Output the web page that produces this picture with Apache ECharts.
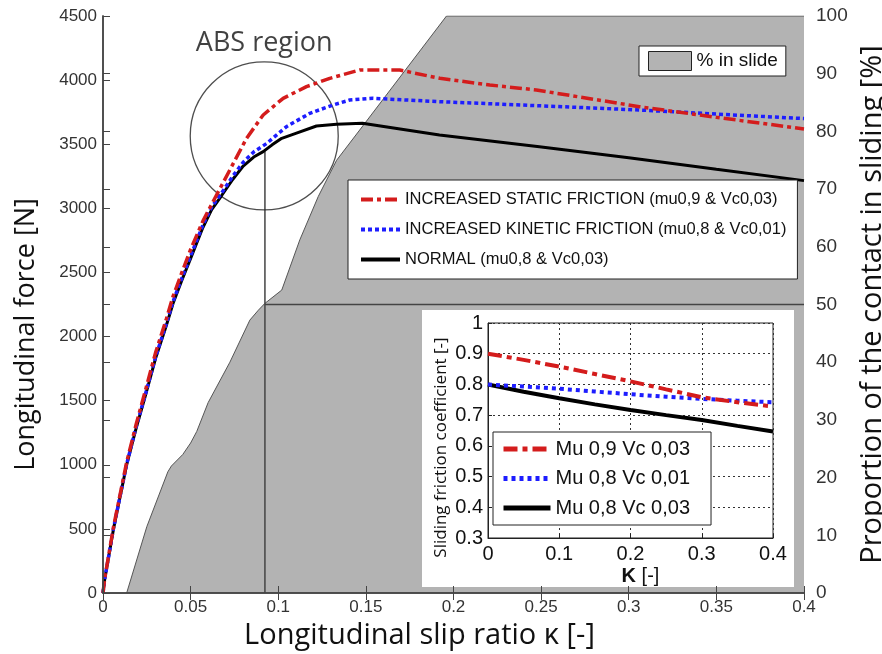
<!DOCTYPE html>
<html>
<head>
<meta charset="utf-8">
<script src="https://cdn.jsdelivr.net/npm/echarts@6/dist/echarts.min.js"></script>
<style>html,body{margin:0;padding:0;background:#fff}#chart{width:882px;height:654px}</style>
</head>
<body>
<div id="chart"></div>
<script>
// main plot: longitudinal force vs slip ratio
var normalK = [0, 0.001, 0.006, 0.0135, 0.019, 0.024, 0.03, 0.036, 0.04, 0.045, 0.05, 0.057, 0.062, 0.0677, 0.074, 0.08, 0.086, 0.0914, 0.0965, 0.102, 0.11, 0.1218, 0.1333, 0.148, 0.192, 0.249, 0.3, 0.35, 0.4];
var normalF = [0, 110, 500, 1000, 1290, 1530, 1830, 2080, 2260, 2440, 2610, 2850, 2990, 3100, 3225, 3330, 3400, 3442, 3495, 3546, 3585, 3642, 3655, 3663, 3572, 3481, 3395, 3305, 3216];

var staticK = [0, 0.001, 0.006, 0.0135, 0.019, 0.024, 0.03, 0.036, 0.04, 0.045, 0.05, 0.057, 0.0648, 0.0724, 0.0819, 0.0914, 0.1028, 0.1161, 0.1294, 0.1465, 0.1693, 0.1922, 0.2207, 0.2473, 0.306, 0.35, 0.4];
var staticF = [0, 115, 515, 1020, 1320, 1570, 1875, 2130, 2315, 2500, 2680, 2900, 3104, 3300, 3546, 3728, 3858, 3949, 4014, 4079, 4079, 4014, 3962, 3923, 3793, 3710, 3619];

var kineticK = [0, 0.001, 0.006, 0.0135, 0.019, 0.024, 0.03, 0.036, 0.04, 0.045, 0.05, 0.057, 0.062, 0.0677, 0.074, 0.08, 0.086, 0.0933, 0.1047, 0.118, 0.1313, 0.1408, 0.154, 0.192, 0.249, 0.306, 0.35, 0.4];
var kineticF = [0, 110, 505, 1005, 1300, 1540, 1840, 2095, 2275, 2455, 2630, 2870, 3010, 3120, 3250, 3360, 3440, 3505, 3637, 3741, 3806, 3845, 3858, 3832, 3800, 3767, 3735, 3700];

// % of contact in sliding (right axis)
var slideK = [0.0135, 0.025, 0.037, 0.039, 0.0455, 0.05, 0.0535, 0.06, 0.0724, 0.0838, 0.0886, 0.0924, 0.102, 0.1123, 0.1228, 0.1333, 0.1494, 0.196, 0.4];
var slideP = [0, 11.5, 21, 22, 24, 26, 28, 33, 40, 47.3, 49, 50.2, 52.5, 61.2, 68.7, 75, 81.4, 100, 100];

var absK = 0.092, absF = 3565;
var refK = 0.0924, refF = 3445, refP = 50;

// inset: sliding friction coefficient
var insetK = [0, 0.05, 0.1, 0.15, 0.2, 0.25, 0.3, 0.35, 0.4];
var insetRed = [0.9, 0.88, 0.858, 0.834, 0.81, 0.784, 0.758, 0.742, 0.728];
var insetBlue = [0.8, 0.793, 0.786, 0.777, 0.768, 0.76, 0.753, 0.747, 0.742];
var insetBlack = [0.8, 0.776, 0.755, 0.735, 0.717, 0.7, 0.684, 0.665, 0.647];

var mainNames = ['INCREASED STATIC FRICTION (mu0,9 & Vc0,03)', 'INCREASED KINETIC FRICTION (mu0,8 & Vc0,01)', 'NORMAL (mu0,8 & Vc0,03)'];
var insetNames = ['Mu 0,9 Vc 0,03', 'Mu 0,8 Vc 0,01', 'Mu 0,8 Vc 0,03'];

function zip(a, b) {
    return a.map(function (v, i) { return [v, b[i]]; });
}

function plain(v) {
    return String(v);
}

var RED = '#d41c1c', BLUE = '#1d1dff', BLACK = '#000';
var ARIAL = 'Liberation Sans';
var TITLE = 'Open Sans';

var myChart = echarts.init(document.getElementById('chart'));

var option = {
    animation: false,
    backgroundColor: '#fff',
    grid: [
        { left: 103, right: 78, top: 16, bottom: 61, outerBoundsMode: 'none', containLabel: false },
        { left: 488, right: 109, top: 323, bottom: 116, outerBoundsMode: 'none', containLabel: false, show: true, z: 6, backgroundColor: '#fff', borderColor: '#222', borderWidth: 1 }
    ],
    graphic: [
        { type: 'rect', z: 5, silent: true, shape: { x: 422, y: 310, width: 372, height: 277 }, style: { fill: '#fff' } }
    ],
    xAxis: [
        {
            gridIndex: 0, type: 'value', min: 0, max: 0.4, interval: 0.05, z: 5,
            name: 'Longitudinal slip ratio \u03ba [-]', nameLocation: 'middle', nameGap: 25,
            nameTextStyle: { fontSize: 29, fontFamily: TITLE, color: '#111', padding: [0, 68, 0, 0] },
            axisLine: { lineStyle: { color: '#444', width: 1.5 } },
            axisTick: { inside: true, length: 7, lineStyle: { color: '#444' } },
            axisLabel: { fontSize: 17, fontFamily: ARIAL, color: '#333', margin: 6, formatter: plain },
            splitLine: { show: false }
        },
        {
            gridIndex: 0, type: 'value', position: 'top', min: 0, max: 0.4, interval: 0.05, z: 5,
            axisLine: { lineStyle: { color: '#444', width: 1.5 } },
            axisTick: { inside: true, length: 7, lineStyle: { color: '#444' } },
            axisLabel: { show: false },
            splitLine: { show: false }
        },
        {
            gridIndex: 1, type: 'value', min: 0, max: 0.4, interval: 0.1, z: 7,
            name: '{b|K} [-]', nameLocation: 'middle', nameGap: 28,
            nameTextStyle: { fontSize: 20, fontFamily: ARIAL, color: '#111', padding: [0, 0, 0, 20], rich: { b: { fontSize: 20, fontWeight: 'bold', fontFamily: ARIAL, color: '#111' } } },
            axisLine: { lineStyle: { color: '#222', width: 1 } },
            axisTick: { inside: true, length: 4, lineStyle: { color: '#222' } },
            axisLabel: { fontSize: 20, fontFamily: ARIAL, color: '#111', margin: 6, formatter: plain },
            splitLine: { show: true, lineStyle: { color: '#333', type: [2, 3], width: 1 } }
        }
    ],
    yAxis: [
        {
            gridIndex: 0, type: 'value', min: 0, max: 4500, interval: 500, z: 5,
            name: 'Longitudinal force [N]', nameLocation: 'middle', nameGap: 63,
            nameTextStyle: { fontSize: 27, fontFamily: TITLE, color: '#111', padding: [0, 60, 0, 0] },
            axisLine: { show: true, lineStyle: { color: '#444', width: 1.5 } },
            axisTick: { show: true, inside: true, length: 7, lineStyle: { color: '#444' } },
            axisLabel: { fontSize: 17, fontFamily: ARIAL, color: '#333', margin: 6, formatter: plain },
            splitLine: { show: false }
        },
        {
            gridIndex: 0, type: 'value', position: 'right', min: 0, max: 100, interval: 10, z: 5,
            name: 'Proportion of the contact in sliding [%]', nameLocation: 'middle', nameGap: 44, nameRotate: 90,
            nameTextStyle: { fontSize: 29, fontFamily: TITLE, color: '#111' },
            axisLine: { show: true, lineStyle: { color: '#444', width: 1.5 } },
            axisTick: { show: true, inside: false, length: 7, lineStyle: { color: '#444' } },
            axisLabel: { fontSize: 19, fontFamily: ARIAL, color: '#333', margin: 12, formatter: plain },
            splitLine: { show: false }
        },
        {
            gridIndex: 1, type: 'value', min: 0.3, max: 1, interval: 0.1, z: 7,
            name: 'Sliding friction coefficient [-]', nameLocation: 'middle', nameGap: 38,
            nameTextStyle: { fontSize: 17, fontFamily: TITLE, color: '#111', padding: [0, 34, 0, 0] },
            axisLine: { show: true, lineStyle: { color: '#222', width: 1 } },
            axisTick: { show: true, inside: true, length: 4, lineStyle: { color: '#222' } },
            axisLabel: { fontSize: 20, fontFamily: ARIAL, color: '#111', margin: 5, formatter: plain },
            splitLine: { show: true, lineStyle: { color: '#333', type: [2, 3], width: 1 } }
        }
    ],
    legend: [
        {
            data: mainNames, orient: 'vertical', left: 348, top: 180, z: 10,
            selectedMode: false, itemWidth: 39, itemHeight: 10, itemGap: 13,
            padding: [11, 11, 11, 11],
            backgroundColor: '#fff', borderColor: '#222', borderWidth: 1,
            lineStyle: { width: 4 }, itemStyle: { opacity: 0 },
            textStyle: { fontSize: 16.5, lineHeight: 16, fontFamily: ARIAL, color: '#111' }
        },
        {
            data: [{ name: '% in slide', icon: 'rect', itemStyle: { color: '#b3b3b3', borderColor: '#222', borderWidth: 1 } }],
            left: 639, top: 46, z: 10, selectedMode: false,
            itemWidth: 43, itemHeight: 19, padding: [5, 8, 5, 9],
            backgroundColor: '#fff', borderColor: '#222', borderWidth: 1,
            textStyle: { fontSize: 19, lineHeight: 19, fontFamily: ARIAL, color: '#111' }
        },
        {
            data: insetNames, orient: 'vertical', left: 493, top: 432, z: 10,
            selectedMode: false, itemWidth: 47, itemHeight: 10, itemGap: 9.5,
            padding: [7, 21, 7, 8],
            backgroundColor: '#fff', borderColor: '#222', borderWidth: 1,
            lineStyle: { width: 5 }, itemStyle: { opacity: 0 },
            textStyle: { fontSize: 20, lineHeight: 20, fontFamily: ARIAL, color: '#111' }
        }
    ],
    series: [
        {
            name: '% in slide', type: 'line', xAxisIndex: 0, yAxisIndex: 1, z: 1, silent: true,
            symbol: 'none', data: zip(slideK, slideP),
            lineStyle: { color: '#555', width: 1 },
            itemStyle: { color: '#b3b3b3' },
            areaStyle: { color: '#b3b3b3', opacity: 1 }
        },
        {
            name: 'vline', type: 'line', xAxisIndex: 0, yAxisIndex: 0, z: 3, silent: true,
            symbol: 'none', data: [[refK, 0], [refK, refF]],
            lineStyle: { color: '#444', width: 1.5 }
        },
        {
            name: 'hline', type: 'line', xAxisIndex: 0, yAxisIndex: 1, z: 3, silent: true,
            symbol: 'none', data: [[refK, refP], [0.4, refP]],
            lineStyle: { color: '#444', width: 1.5 }
        },
        {
            name: 'ABS region', type: 'scatter', xAxisIndex: 0, yAxisIndex: 0, z: 3, silent: true,
            symbol: 'circle', symbolSize: 148, data: [[absK, absF]],
            itemStyle: { color: 'rgba(0,0,0,0)', borderColor: '#222', borderWidth: 1.3 },
            label: { show: true, position: 'top', distance: 4, formatter: 'ABS region', fontSize: 27, fontFamily: TITLE, color: '#111' }
        },
        {
            name: mainNames[2], type: 'line', xAxisIndex: 0, yAxisIndex: 0, z: 4, silent: true,
            symbol: 'none', data: zip(normalK, normalF),
            lineStyle: { color: BLACK, width: 3 }, itemStyle: { color: BLACK }
        },
        {
            name: mainNames[1], type: 'line', xAxisIndex: 0, yAxisIndex: 0, z: 4, silent: true,
            symbol: 'none', data: zip(kineticK, kineticF),
            lineStyle: { color: BLUE, width: 3.5, type: [4, 3] }, itemStyle: { color: BLUE }
        },
        {
            name: mainNames[0], type: 'line', xAxisIndex: 0, yAxisIndex: 0, z: 4, silent: true,
            symbol: 'none', data: zip(staticK, staticF),
            lineStyle: { color: RED, width: 3.5, type: [12, 4, 4, 4] }, itemStyle: { color: RED }
        },
        {
            name: insetNames[2], type: 'line', xAxisIndex: 2, yAxisIndex: 2, z: 8, silent: true,
            symbol: 'none', data: zip(insetK, insetBlack),
            lineStyle: { color: BLACK, width: 4 }, itemStyle: { color: BLACK }
        },
        {
            name: insetNames[1], type: 'line', xAxisIndex: 2, yAxisIndex: 2, z: 8, silent: true,
            symbol: 'none', data: zip(insetK, insetBlue),
            lineStyle: { color: BLUE, width: 4, type: [4, 4] }, itemStyle: { color: BLUE }
        },
        {
            name: insetNames[0], type: 'line', xAxisIndex: 2, yAxisIndex: 2, z: 8, silent: true,
            symbol: 'none', data: zip(insetK, insetRed),
            lineStyle: { color: RED, width: 4, type: [14, 5, 5, 5] }, itemStyle: { color: RED }
        }
    ]
};

myChart.setOption(option);

window.addEventListener('resize', function () {
    myChart.resize();
});
</script>
</body>
</html>
